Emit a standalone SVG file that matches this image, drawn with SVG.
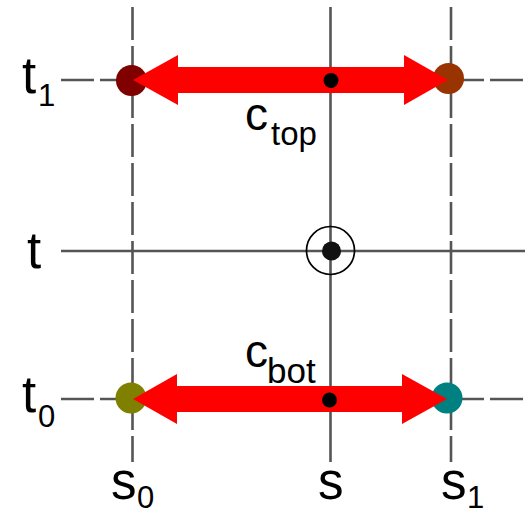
<svg xmlns="http://www.w3.org/2000/svg" width="525" height="514" viewBox="0 0 525 514">
<style>
.grid{stroke:#555;stroke-width:2.6;fill:none}
.dash{stroke-dasharray:33 6}
.arr{fill:#ff0000}
.lbl{font-family:"Liberation Sans",Arial,sans-serif;fill:#000}
.big{font-size:51px}
.sub{font-size:31px}
</style>
<rect width="525" height="514" fill="#fff"/>
<g id="connectors">
<line class="grid dash" x1="132.5" y1="7" x2="132.5" y2="462"/>
<line class="grid" x1="330.5" y1="7" x2="330.5" y2="462"/>
<line class="grid dash" x1="451" y1="7" x2="451" y2="462"/>
<line class="grid dash" x1="61" y1="80" x2="525" y2="80"/>
<line class="grid" x1="61" y1="251" x2="525" y2="251"/>
<line class="grid dash" x1="61" y1="399" x2="525" y2="399"/>
</g>
<g id="p_t1_s0"><circle cx="131.5" cy="80.5" r="15.5" fill="#800000"/></g>
<g id="p_t1_s1"><circle cx="448.5" cy="78.5" r="15.5" fill="#993300"/></g>
<g id="p_t0_s0"><circle cx="131" cy="398" r="15.5" fill="#808000"/></g>
<g id="p_t0_s1"><circle cx="447" cy="398" r="15.5" fill="#008080"/></g>
<g id="arrow_top"><polygon class="arr" points="133,80 178,55 178,67 404,67 404,55 448,80 404,105 404,93 178,93 178,105"/></g>
<g id="arrow_bot"><polygon class="arr" points="133,399 177,374 177,386 402,386 402,374 447,399 402,424 402,412 177,412 177,424"/></g>
<g id="dot_top"><circle cx="331" cy="80.5" r="7.5" fill="#000"/></g>
<g id="dot_bot"><circle cx="329.5" cy="400" r="7.5" fill="#000"/></g>
<g id="center"><circle cx="331.5" cy="251" r="9.5" fill="#111"/><circle cx="330.5" cy="250.5" r="24" fill="none" stroke="#000" stroke-width="1.7"/></g>
<g id="labels">
<text class="lbl big" x="22" y="93">t</text><text class="lbl sub" x="38" y="106">1</text>
<text class="lbl big" x="27" y="268">t</text>
<text class="lbl big" x="22" y="412">t</text><text class="lbl sub" x="38" y="427">0</text>
<text class="lbl big" x="111" y="499">s</text><text class="lbl sub" x="137" y="508">0</text>
<text class="lbl big" x="318" y="499">s</text>
<text class="lbl big" x="441" y="499">s</text><text class="lbl sub" x="467" y="508">1</text>
<text class="lbl" font-size="46" x="245" y="130">c</text><text class="lbl" font-size="33" x="271" y="145">top</text>
<text class="lbl" font-size="46" x="245" y="367">c</text><text class="lbl" font-size="35" x="267" y="383">bot</text>
</g>
</svg>
